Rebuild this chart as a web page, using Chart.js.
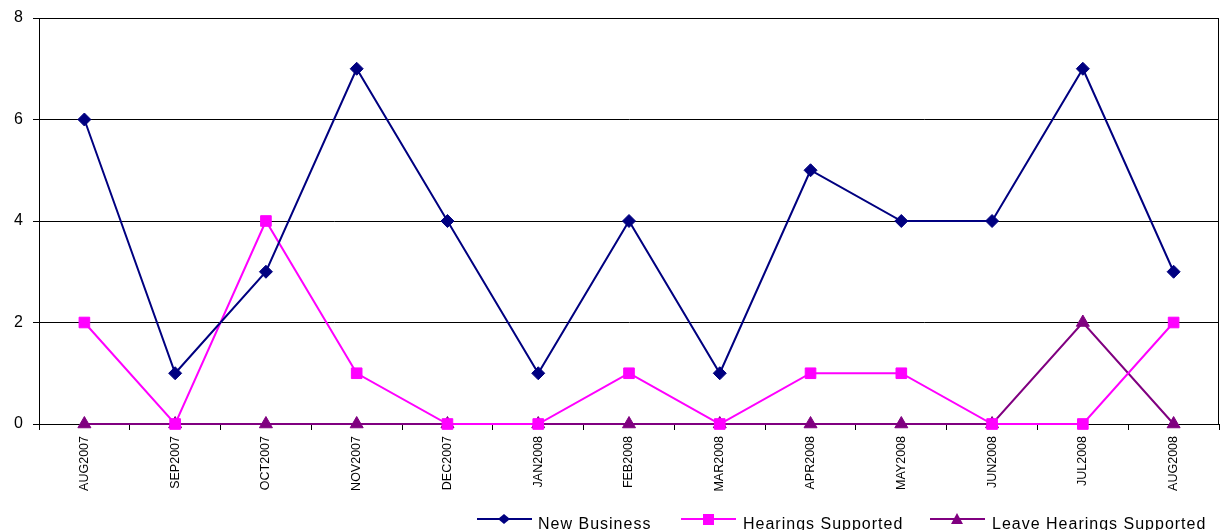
<!DOCTYPE html>
<html>
<head>
<meta charset="utf-8">
<script src="https://cdn.jsdelivr.net/npm/chart.js@4.4.1/dist/chart.umd.min.js"></script>
<style>
  html, body { margin: 0; padding: 0; background: #fff; overflow: hidden; }
  #wrap { position: relative; width: 1220px; height: 530px; overflow: hidden; }
  #legend { position: absolute; left: 0; top: 0; width: 1220px; height: 530px; pointer-events: none;
            font-family: Arial, "Liberation Sans", sans-serif; font-size: 16px; letter-spacing: 1px; color: #000; }
  .item { position: absolute; top: 516px; line-height: 16px; white-space: nowrap; }
  .item svg { position: absolute; top: -3px; }
</style>
</head>
<body>
<div id="wrap">
  <canvas id="myChart" width="1220" height="530"></canvas>
  <div id="legend"></div>
</div>
<script>
// months along the x axis
const months = ['AUG2007', 'SEP2007', 'OCT2007', 'NOV2007', 'DEC2007', 'JAN2008', 'FEB2008',
  'MAR2008', 'APR2008', 'MAY2008', 'JUN2008', 'JUL2008', 'AUG2008'];

// series values
const newBusiness = [6, 1, 3, 7, 4, 1, 4, 1, 5, 4, 4, 7, 3];
const hearingsSupported = [2, 0, 4, 1, 0, 0, 1, 0, 1, 1, 0, 0, 2];
const leaveHearingsSupported = [0, 0, 0, 0, 0, 0, 0, 0, 0, 0, 0, 2, 0];

const seriesNames = ['New Business', 'Hearings Supported', 'Leave Hearings Supported'];
const yTicks = [0, 2, 4, 6, 8];

const NAVY = '#000080';
const MAGENTA = '#FF00FF';
const PURPLE = '#800080';

// draws a box round the plot area (top/right edges)
const frame = {
  id: 'frame',
  beforeDatasetsDraw(c) {
    const a = c.chartArea;
    const ctx = c.ctx;
    ctx.save();
    ctx.strokeStyle = '#000';
    ctx.lineWidth = 1;
    ctx.strokeRect(Math.round(a.left) + 0.5, Math.round(a.top) + 0.5,
      Math.round(a.right - a.left) - 1, Math.round(a.bottom - a.top));
    ctx.restore();
  }
};

function ds(label, data, color, style, radius) {
  return {
    label: label,
    data: data,
    borderColor: color,
    backgroundColor: color,
    borderWidth: 2,
    pointStyle: style,
    pointRadius: radius,
    pointHoverRadius: radius,
    pointBorderWidth: 1,
    pointBorderColor: color,
    pointBackgroundColor: color,
    tension: 0,
    fill: false,
    clip: false
  };
}

const ctx = document.getElementById('myChart').getContext('2d');
const chart = new Chart(ctx, {
  type: 'line',
  data: {
    labels: months,
    datasets: [
      ds(seriesNames[0], newBusiness, NAVY, 'rectRot', 6.5),
      ds(seriesNames[1], hearingsSupported, MAGENTA, 'rect', 7.5),
      ds(seriesNames[2], leaveHearingsSupported, PURPLE, 'triangle', 7.5)
    ]
  },
  options: {
    responsive: false,
    animation: false,
    layout: { autoPadding: false, padding: { top: 18, right: 1, left: 0, bottom: 0 } },
    plugins: {
      legend: { display: false },
      tooltip: { enabled: false }
    },
    scales: {
      x: {
        offset: true,
        grid: { offset: true, drawOnChartArea: false, drawTicks: true, tickLength: 6, color: '#000' },
        border: { color: '#000', width: 1 },
        ticks: {
          autoSkip: false,
          minRotation: 90,
          maxRotation: 90,
          padding: 6,
          color: '#000',
          font: { family: 'Arial, "Liberation Sans", sans-serif', size: 12.5 }
        },
        afterFit(scale) {
          scale.height = 106;
          scale.paddingLeft = 0;
          scale.paddingRight = 0;
        }
      },
      y: {
        min: 0,
        max: 8,
        afterBuildTicks(scale) { scale.ticks = yTicks.map(v => ({ value: v })); },
        grid: { color: '#000', lineWidth: 1, tickLength: 6, drawTicks: true },
        border: { color: '#000', width: 1 },
        ticks: {
          padding: 10,
          color: '#000',
          font: { family: 'Arial, "Liberation Sans", sans-serif', size: 16 }
        },
        afterFit(scale) {
          scale.width = 39;
          scale.paddingTop = 0;
          scale.paddingBottom = 0;
        }
      }
    }
  },
  plugins: [frame]
});

// legend below the plot, built from the datasets
const legendPos = [{ line: 477, text: 538 }, { line: 681, text: 743 }, { line: 930, text: 992 }];
const legendEl = document.getElementById('legend');
chart.data.datasets.forEach((d, i) => {
  const item = document.createElement('div');
  item.className = 'item';
  item.style.left = legendPos[i].line + 'px';
  const c = d.borderColor;
  let marker;
  if (d.pointStyle === 'rectRot') marker = `<polygon points="27,1 33,6 27,11 21,6" fill="${c}"/>`;
  else if (d.pointStyle === 'rect') marker = `<rect x="22" y="1" width="11" height="11" fill="${c}"/>`;
  else marker = `<polygon points="27,0 33,11 21,11" fill="${c}"/>`;
  item.innerHTML = `<svg width="55" height="13"><line x1="0" y1="6" x2="55" y2="6" stroke="${c}" stroke-width="2"/>${marker}</svg>` +
    `<span style="position:absolute;left:${legendPos[i].text - legendPos[i].line}px;top:0">${d.label}</span>`;
  legendEl.appendChild(item);
});
</script>
</body>
</html>
